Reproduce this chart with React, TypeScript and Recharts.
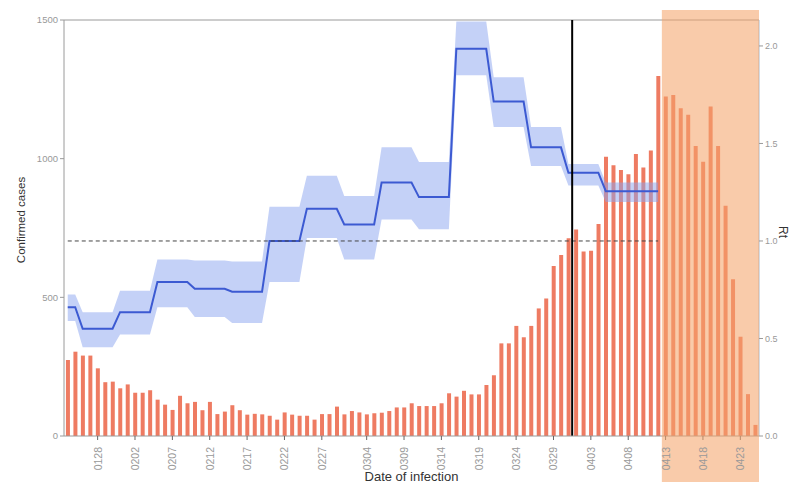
import React from "react";
import { Area, Bar, ComposedChart, Line, ReferenceArea, ReferenceLine, XAxis, YAxis } from "recharts";

const FONT = "'Liberation Sans', Arial, sans-serif";
const AXIS_GREY = "#9a9a9a";
const TICK_GREY = "#999";

// one category per day, 2020-01-24 .. 2020-04-25, labelled MMDD
const startDate = new Date(2020, 0, 24);
const dates: string[] = Array.from({ length: 93 }, (_, i) => {
  const d = new Date(startDate.getFullYear(), startDate.getMonth(), startDate.getDate() + i);
  return String(d.getMonth() + 1).padStart(2, "0") + String(d.getDate()).padStart(2, "0");
});

const tickDates = ["0128", "0202", "0207", "0212", "0217", "0222", "0227", "0304", "0309", "0314", "0319", "0324", "0329", "0403", "0408", "0413", "0418", "0423"];

// daily confirmed cases by date of infection
const cases = [
  274, 304, 290, 290, 244, 194, 196, 172, 186, 156, 156, 165, 131, 113, 94, 145, 118, 123, 93, 123, 79,
  88, 111, 93, 77, 80, 78, 73, 59, 85, 77, 73, 73, 59, 79, 79, 106, 78, 90, 85, 78,
  82, 84, 90, 103, 103, 118, 108, 108, 108, 118, 154, 142, 163, 150, 150, 184, 219, 334, 334, 397, 356, 397,
  460, 496, 613, 653, 713, 745, 665, 668, 764, 1007, 976, 959, 944, 1017, 968, 1029, 1298,
  1224, 1230, 1182, 1158, 1046, 989, 1188, 1046, 830, 565, 358, 151, 40,
];

// Rt estimates, constant over windows starting at these day indices (last window ends at 0412)
const rtWindowStart = [0, 2, 7, 12, 17, 22, 27, 32, 37, 42, 47, 52, 57, 62, 67, 72];
const rtLastDay = 79;
const rtMean = [0.66, 0.55, 0.635, 0.79, 0.755, 0.74, 1.0, 1.165, 1.085, 1.3, 1.225, 1.985, 1.715, 1.48, 1.35, 1.255];
const rtLow = [0.59, 0.455, 0.52, 0.66, 0.61, 0.58, 0.79, 1.015, 0.905, 1.11, 1.06, 1.85, 1.585, 1.385, 1.285, 1.2];
const rtHigh = [0.725, 0.635, 0.745, 0.905, 0.9, 0.895, 1.175, 1.335, 1.23, 1.48, 1.405, 2.125, 1.84, 1.585, 1.395, 1.3];

const leftTicks = [0, 500, 1000, 1500];
const rightTicks = [0, 0.5, 1, 1.5, 2];

function windowOf(day: number) {
  let w = -1;
  rtWindowStart.forEach((s, i) => {
    if (day >= s) w = i;
  });
  return w;
}

const data = dates.map((date, i) => {
  const w = i <= rtLastDay ? windowOf(i) : -1;
  return {
    date,
    cases: cases[i],
    rt: w >= 0 ? rtMean[w] : null,
    band: w >= 0 ? [rtLow[w], rtHigh[w]] : null,
  };
});

const DateTick = (props: any) => {
  const { x, y, payload } = props;
  return (
    <text
      x={x}
      y={y}
      transform={`rotate(-90, ${x}, ${y})`}
      textAnchor="end"
      dominantBaseline="central"
      fontSize={10.5}
      fill={TICK_GREY}
      fontFamily={FONT}
    >
      {payload.value}
    </text>
  );
};

const LeftTitle = (props: any) => {
  const { x, y, height } = props.viewBox;
  const cx = x + 21;
  const cy = y + height / 2 - 8;
  return (
    <text x={cx} y={cy} transform={`rotate(-90, ${cx}, ${cy})`} textAnchor="middle" dominantBaseline="central" fontSize={11.5} fill="#333" fontFamily={FONT}>
      Confirmed cases
    </text>
  );
};

const RightTitle = (props: any) => {
  const { x, y, height } = props.viewBox;
  const cx = x + 24;
  const cy = y + height / 2 + 4;
  return (
    <text x={cx} y={cy} transform={`rotate(90, ${cx}, ${cy})`} textAnchor="middle" dominantBaseline="central" fontSize={12} fill="#333" fontFamily={FONT}>
      Rt
    </text>
  );
};

const BottomTitle = (props: any) => {
  const { x, y, width } = props.viewBox;
  return (
    <text x={x + width / 2} y={y + 40} textAnchor="middle" dominantBaseline="central" fontSize={13} fill="#333" fontFamily={FONT}>
      Date of infection
    </text>
  );
};

// the shaded window runs a little above the panel and down past the date labels
const ShadeShape = (props: any) => {
  const { x, y, width } = props;
  return <rect x={x} y={y - 10} width={width} height={482 - (y - 10)} fill="#f4a46a" fillOpacity={0.57} />;
};

export default function App() {
  return (
    <div style={{ position: "absolute", left: 0, top: 0 }}>
      <ComposedChart width={795} height={482} data={data} margin={{ top: 20, right: 0, bottom: 0, left: 0 }} barCategoryGap="26%">
        <XAxis
          dataKey="date"
          ticks={tickDates}
          interval={0}
          tick={<DateTick />}
          tickSize={4}
          tickMargin={7}
          tickLine={{ stroke: "#666" }}
          axisLine={{ stroke: AXIS_GREY }}
          height={46}
          label={{ content: <BottomTitle /> }}
        />
        <YAxis
          yAxisId="left"
          domain={[0, 1500]}
          ticks={leftTicks}
          width={64}
          tickSize={4}
          tickLine={{ stroke: AXIS_GREY }}
          axisLine={{ stroke: AXIS_GREY }}
          tick={{ fontSize: 9.5, fill: TICK_GREY, fontFamily: FONT }}
          label={{ content: <LeftTitle /> }}
        />
        <YAxis
          yAxisId="right"
          orientation="right"
          domain={[0, 2.133]}
          ticks={rightTicks}
          width={36}
          tickSize={4}
          tickFormatter={(v: number) => v.toFixed(1)}
          tickLine={{ stroke: AXIS_GREY }}
          axisLine={{ stroke: "#a9b9cc" }}
          tick={{ fontSize: 9, fill: TICK_GREY, fontFamily: FONT }}
          label={{ content: <RightTitle /> }}
        />
        <ReferenceLine yAxisId="left" y={1500} stroke={AXIS_GREY} />
        <Bar yAxisId="left" dataKey="cases" fill="#ee7b62" isAnimationActive={false} />
        <Area yAxisId="right" dataKey="band" type="linear" stroke="none" fill="#8aa3f0" fillOpacity={0.5} isAnimationActive={false} zIndex={350} />
        <Line yAxisId="right" dataKey="rt" type="linear" stroke="#3c5ad2" strokeWidth={2} dot={false} activeDot={false} isAnimationActive={false} zIndex={400} />
        <ReferenceLine
          yAxisId="right"
          segment={[
            { x: dates[0], y: 1 },
            { x: dates[rtLastDay], y: 1 },
          ]}
          stroke="#444"
          strokeDasharray="4 3"
          zIndex={450}
        />
        <ReferenceLine yAxisId="left" x="0401" position="start" stroke="#000" strokeWidth={2} zIndex={460} />
        <ReferenceArea yAxisId="left" x1="0413" x2="0425" shape={<ShadeShape />} ifOverflow="visible" zIndex={900} />
      </ComposedChart>
    </div>
  );
}
